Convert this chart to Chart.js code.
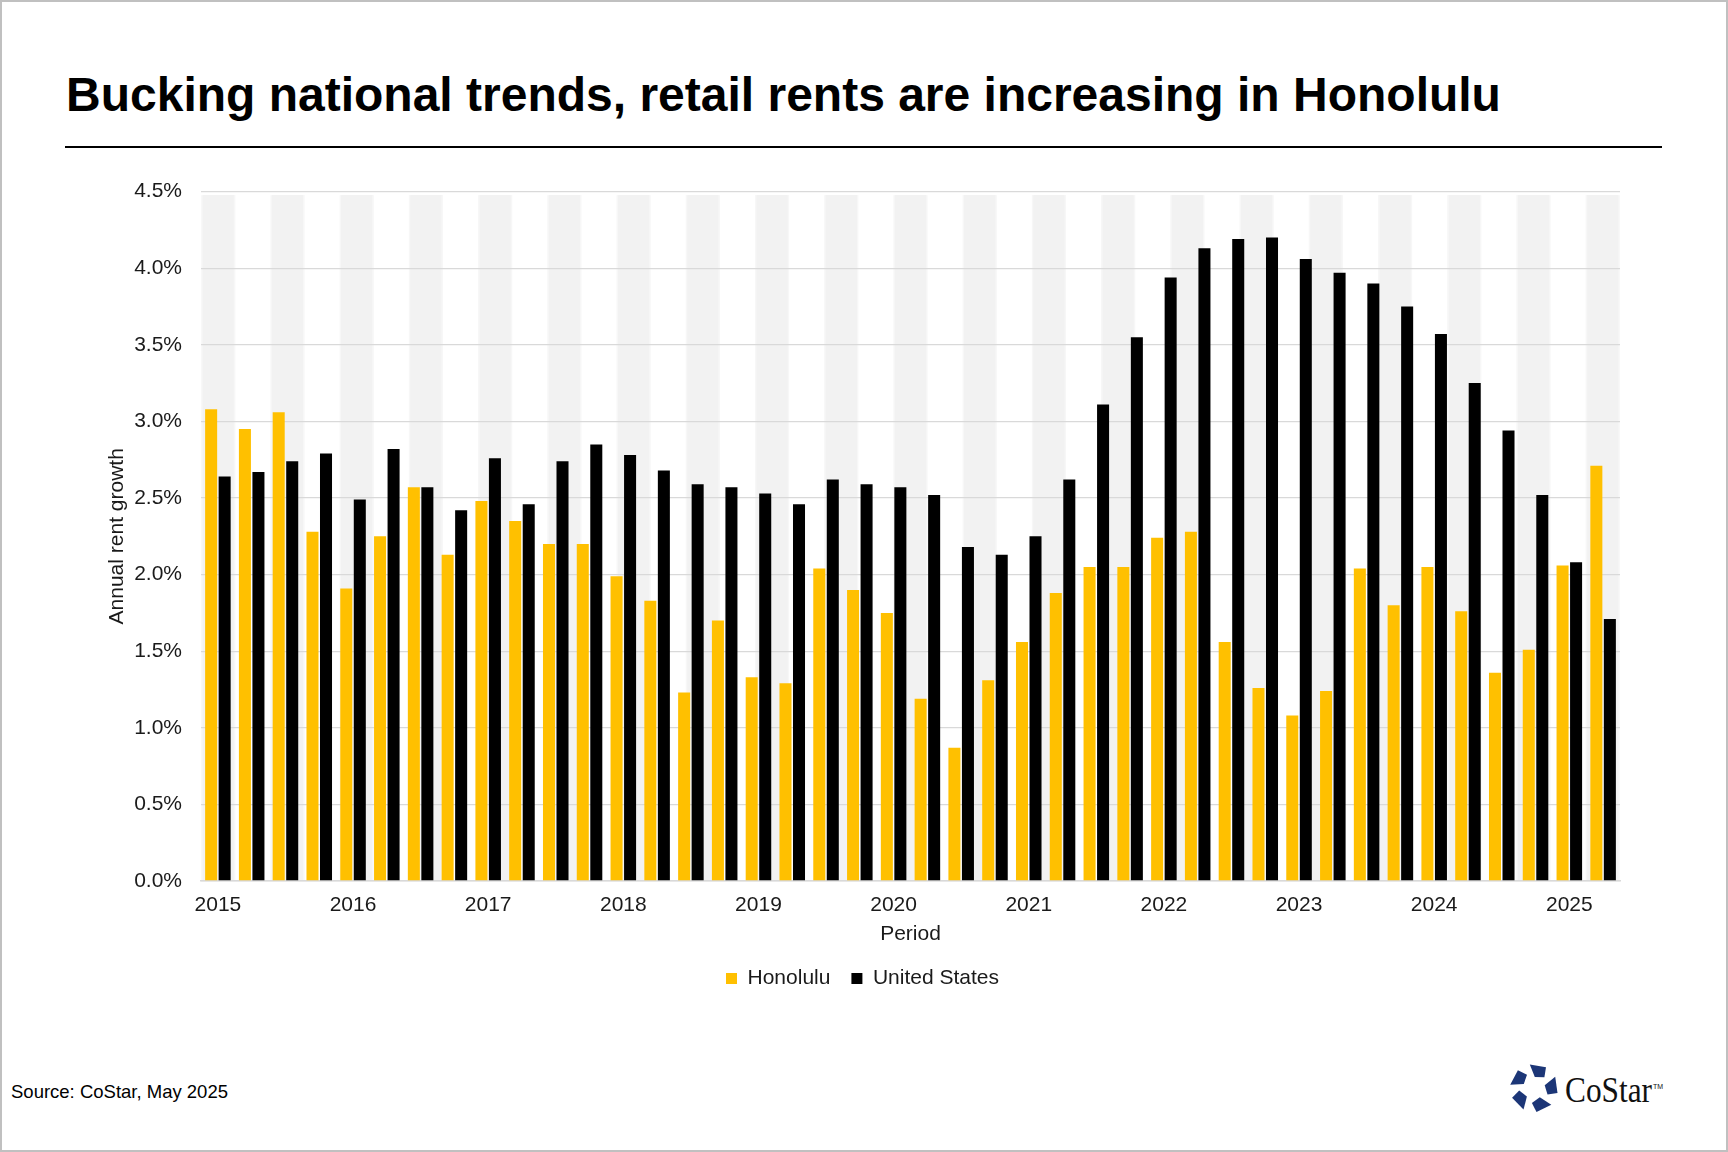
<!DOCTYPE html>
<html>
<head>
<meta charset="utf-8">
<script src="https://cdn.jsdelivr.net/npm/chart.js@4.4.1/dist/chart.umd.min.js"></script>
<style>
  body { margin: 0; background: #fff; }
  #page { position: relative; width: 1728px; height: 1152px; background: #fff; overflow: hidden; font-family: 'Liberation Sans', Arial, sans-serif; }
  #frame { position: absolute; left: 0; top: 0; width: 1728px; height: 1152px; box-sizing: border-box; border: 2px solid #c0c0c0; pointer-events: none; }
  #title { position: absolute; left: 66px; top: 71px; font: 700 48px/1 'Liberation Sans', Arial, sans-serif; color: #000; white-space: nowrap; }
  #rule { position: absolute; left: 65px; top: 146px; width: 1597px; height: 2px; background: #000; }
  #chart-wrap { position: absolute; left: 0; top: 160px; width: 1728px; height: 850px; }
  #source { position: absolute; left: 11px; top: 1083px; font: 18.5px/1 'Liberation Sans', Arial, sans-serif; color: #000; }
  #logo { position: absolute; left: 1510px; top: 1062px; }
</style>
</head>
<body>
<div id="page">
  <div id="title">Bucking national trends, retail rents are increasing in Honolulu</div>
  <div id="rule"></div>
  <div id="chart-wrap"><canvas id="rent-chart"></canvas></div>
  <div id="source">Source: CoStar, May 2025</div>
  <svg id="logo" width="160" height="56" viewBox="0 0 160 56">
    <g id="logo-mark" fill="#1c3677"></g>
    <text x="55" y="40" font-family="'Liberation Serif', 'DejaVu Serif', serif" font-size="35" textLength="87" lengthAdjust="spacingAndGlyphs" fill="#111">CoStar</text>
    <text x="143" y="27" font-family="'Liberation Sans', Arial, sans-serif" font-size="7" fill="#111">TM</text>
  </svg>
  <div id="frame"></div>
</div>

<script>
// Quarterly annual rent growth (%), 2015 Q1 - 2025 Q2
const quarters = [
  '2015 Q1', '2015 Q2', '2015 Q3', '2015 Q4',
  '2016 Q1', '2016 Q2', '2016 Q3', '2016 Q4',
  '2017 Q1', '2017 Q2', '2017 Q3', '2017 Q4',
  '2018 Q1', '2018 Q2', '2018 Q3', '2018 Q4',
  '2019 Q1', '2019 Q2', '2019 Q3', '2019 Q4',
  '2020 Q1', '2020 Q2', '2020 Q3', '2020 Q4',
  '2021 Q1', '2021 Q2', '2021 Q3', '2021 Q4',
  '2022 Q1', '2022 Q2', '2022 Q3', '2022 Q4',
  '2023 Q1', '2023 Q2', '2023 Q3', '2023 Q4',
  '2024 Q1', '2024 Q2', '2024 Q3', '2024 Q4',
  '2025 Q1', '2025 Q2'
];

const honolulu = [
  3.08, 2.95, 3.06, 2.28, 1.91, 2.25, 2.57, 2.13, 2.48, 2.35,
  2.20, 2.20, 1.99, 1.83, 1.23, 1.70, 1.33, 1.29, 2.04, 1.90,
  1.75, 1.19, 0.87, 1.31, 1.56, 1.88, 2.05, 2.05, 2.24, 2.28,
  1.56, 1.26, 1.08, 1.24, 2.04, 1.80, 2.05, 1.76, 1.36, 1.51,
  2.06, 2.71
];

const unitedStates = [
  2.64, 2.67, 2.74, 2.79, 2.49, 2.82, 2.57, 2.42, 2.76, 2.46,
  2.74, 2.85, 2.78, 2.68, 2.59, 2.57, 2.53, 2.46, 2.62, 2.59,
  2.57, 2.52, 2.18, 2.13, 2.25, 2.62, 3.11, 3.55, 3.94, 4.13,
  4.19, 4.20, 4.06, 3.97, 3.90, 3.75, 3.57, 3.25, 2.94, 2.52,
  2.08, 1.71
];

const yMin = 0;
const yMax = 4.5;
const yStep = 0.5;

Chart.defaults.font.family = "'Liberation Sans', Arial, sans-serif";
Chart.defaults.color = '#1a1a1a';

// Alternating grey background columns behind the bars
const bandsPlugin = {
  id: 'bands',
  beforeDraw(chart) {
    const { ctx, chartArea: area, scales: { y } } = chart;
    const slots = 41;
    const slot = (area.right - area.left) / slots;
    const top = y.getPixelForValue(yMax) + 3.5;
    const bottom = y.getPixelForValue(yMin);
    ctx.save();
    for (let j = 0; j < slots; j += 2) {
      const x0 = area.left + j * slot + 1.7;
      const w = slot - 3.4;
      ctx.fillStyle = '#f7f7f7';
      ctx.fillRect(x0 - 1.5, top, w + 3, bottom - top);
      ctx.fillStyle = '#f2f2f2';
      ctx.fillRect(x0, top, w, bottom - top);
    }
    ctx.restore();
  }
};

const ctx = document.getElementById('rent-chart').getContext('2d');

new Chart(ctx, {
  type: 'bar',
  data: {
    labels: quarters,
    datasets: [
      {
        label: 'Honolulu',
        data: honolulu,
        backgroundColor: '#ffc000',
        borderWidth: 0,
        barPercentage: 0.89,
        categoryPercentage: 0.8
      },
      {
        label: 'United States',
        data: unitedStates,
        backgroundColor: '#000000',
        borderWidth: 0,
        barPercentage: 0.89,
        categoryPercentage: 0.8
      }
    ]
  },
  options: {
    responsive: true,
    maintainAspectRatio: false,
    animation: false,
    layout: {
      padding: { left: 105, right: 108, top: 30, bottom: 11 }
    },
    plugins: {
      tooltip: { enabled: false },
      legend: {
        position: 'bottom',
        labels: {
          boxWidth: 11,
          boxHeight: 11,
          padding: 21,
          font: { size: 21 },
          color: '#1a1a1a'
        }
      }
    },
    scales: {
      x: {
        grid: { display: false, drawTicks: false },
        border: { display: true, color: '#d9d9d9', width: 1.5 },
        ticks: {
          autoSkip: false,
          maxRotation: 0,
          minRotation: 0,
          padding: 12,
          font: { size: 21 },
          color: '#1a1a1a',
          callback: function(value, index) {
            const q = quarters[index];
            return q.endsWith('Q1') ? q.slice(0, 4) : '';
          }
        },
        title: {
          display: true,
          text: 'Period',
          font: { size: 21 },
          color: '#1a1a1a',
          padding: { top: 0, bottom: 0 }
        },
        afterFit: function(scale) {
          scale.height = 66;
        }
      },
      y: {
        min: yMin,
        max: yMax,
        grid: { color: '#d9d9d9', lineWidth: 1.3, drawTicks: false },
        border: { display: false },
        ticks: {
          stepSize: yStep,
          padding: 19,
          font: { size: 21 },
          color: '#1a1a1a',
          callback: function(value) {
            return value.toFixed(1) + '%';
          }
        },
        title: {
          display: true,
          text: 'Annual rent growth',
          font: { size: 21 },
          color: '#1a1a1a',
          padding: { top: 0, bottom: 0 }
        },
        afterFit: function(scale) {
          scale.width = 96;
        }
      }
    }
  },
  plugins: [bandsPlugin]
});

// CoStar mark: five pieces of a pentagon ring
(function drawLogoMark() {
  const g = document.getElementById('logo-mark');
  const cx = 24, cy = 26, R = 24, r = 11;
  const pt = (rad, deg) => [cx + rad * Math.cos(deg * Math.PI / 180), cy + rad * Math.sin(deg * Math.PI / 180)];
  for (let k = 0; k < 5; k++) {
    const a = -90 + 72 * k;
    const v0 = pt(R, a - 10);
    const v1 = pt(R, a + 30);
    const v2 = pt(r + 4, a + 44);
    const v3 = pt(r, a + 4);
    const poly = document.createElementNS('http://www.w3.org/2000/svg', 'polygon');
    poly.setAttribute('points', [v0, v1, v2, v3].map(p => p[0].toFixed(1) + ',' + p[1].toFixed(1)).join(' '));
    g.appendChild(poly);
  }
})();
</script>
</body>
</html>
